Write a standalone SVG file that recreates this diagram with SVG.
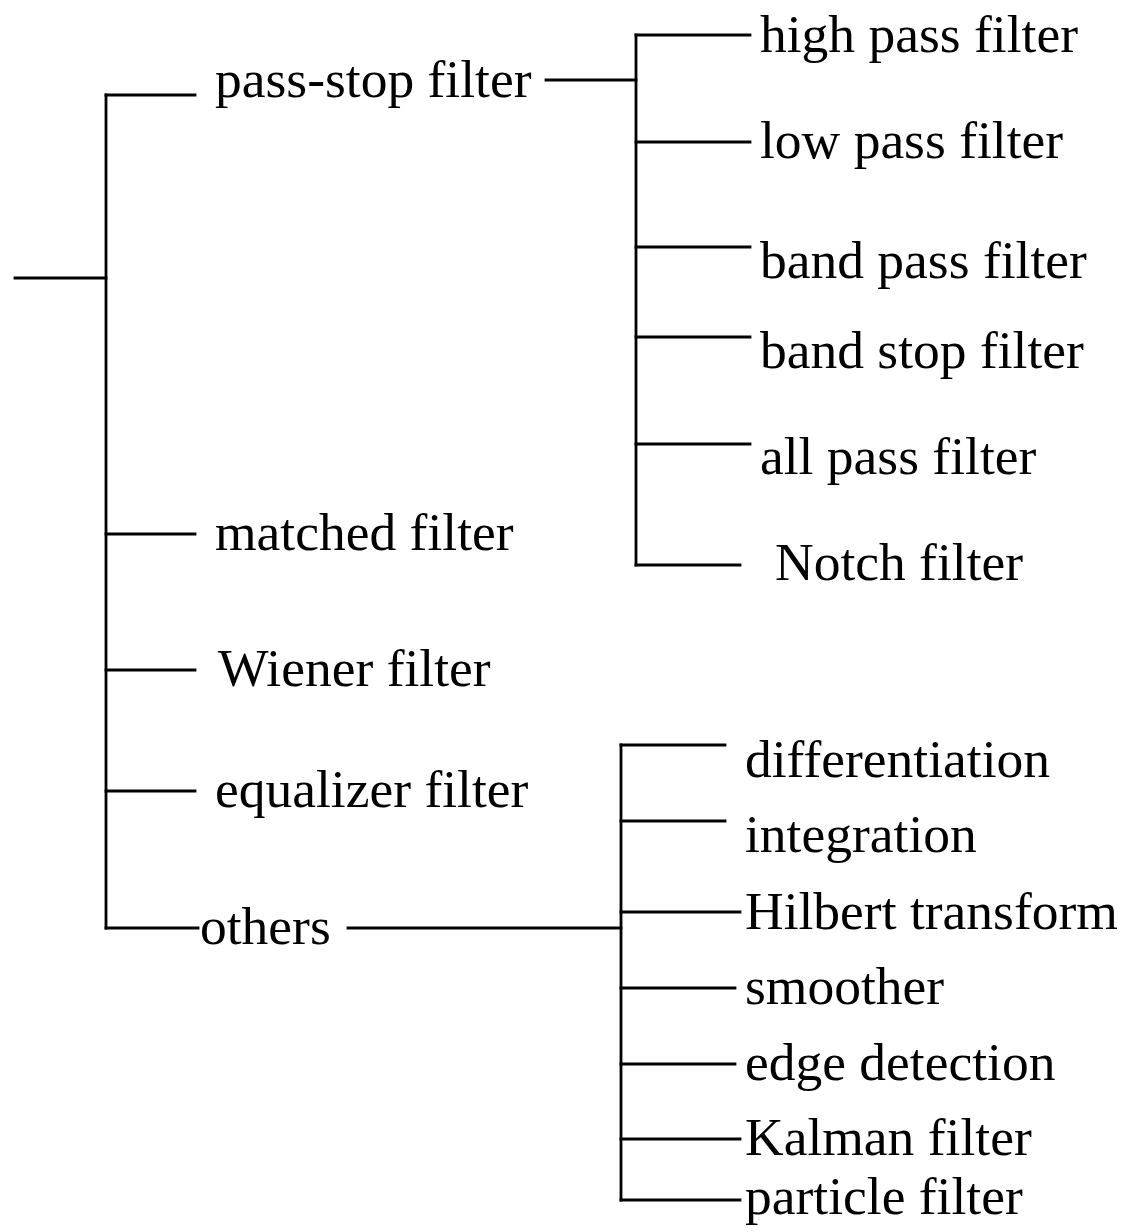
<svg xmlns="http://www.w3.org/2000/svg" width="1124" height="1232" viewBox="0 0 1124 1232">
<style>
.c line{stroke:#000;stroke-width:2.8;stroke-linecap:square;fill:none}
text{font-family:"Liberation Serif","Times New Roman",serif;font-size:53.5px;fill:#000}
</style>
<rect width="1124" height="1232" fill="#fff"/>
<g id="connectors" class="c">
<line x1="15" y1="278" x2="106" y2="278"/>
<line x1="106" y1="95" x2="106" y2="928"/>
<line x1="106" y1="95" x2="195" y2="95"/>
<line x1="106" y1="534" x2="195" y2="534"/>
<line x1="106" y1="670" x2="195" y2="670"/>
<line x1="106" y1="791" x2="195" y2="791"/>
<line x1="106" y1="928" x2="198" y2="928"/>
<line x1="546" y1="80" x2="636" y2="80"/>
<line x1="636" y1="35" x2="636" y2="565"/>
<line x1="636" y1="35" x2="750" y2="35"/>
<line x1="636" y1="142" x2="750" y2="142"/>
<line x1="636" y1="247" x2="750" y2="247"/>
<line x1="636" y1="337" x2="750" y2="337"/>
<line x1="636" y1="444" x2="750" y2="444"/>
<line x1="636" y1="565" x2="740" y2="565"/>
<line x1="348" y1="928" x2="621" y2="928"/>
<line x1="621" y1="745" x2="621" y2="1200"/>
<line x1="621" y1="745" x2="725" y2="745"/>
<line x1="621" y1="821" x2="725" y2="821"/>
<line x1="621" y1="912" x2="740" y2="912"/>
<line x1="621" y1="988" x2="735" y2="988"/>
<line x1="621" y1="1064" x2="735" y2="1064"/>
<line x1="621" y1="1139" x2="740" y2="1139"/>
<line x1="621" y1="1200" x2="740" y2="1200"/>
</g>
<g id="n-passstop"><text x="215" y="97">pass-stop filter</text></g>
<g id="n-matched"><text x="215" y="550">matched filter</text></g>
<g id="n-wiener"><text x="218" y="686">Wiener filter</text></g>
<g id="n-equalizer"><text x="215" y="807">equalizer filter</text></g>
<g id="n-others"><text x="200" y="944">others</text></g>
<g id="n-highpass"><text x="760" y="52">high pass filter</text></g>
<g id="n-lowpass"><text x="760" y="158">low pass filter</text></g>
<g id="n-bandpass"><text x="760" y="278">band pass filter</text></g>
<g id="n-bandstop"><text x="760" y="368">band stop filter</text></g>
<g id="n-allpass"><text x="760" y="474">all pass filter</text></g>
<g id="n-notch"><text x="775" y="580">Notch filter</text></g>
<g id="n-diff"><text x="745" y="777">differentiation</text></g>
<g id="n-integ"><text x="745" y="852">integration</text></g>
<g id="n-hilbert"><text x="745" y="929">Hilbert transform</text></g>
<g id="n-smoother"><text x="745" y="1004">smoother</text></g>
<g id="n-edge"><text x="745" y="1080">edge detection</text></g>
<g id="n-kalman"><text x="745" y="1155">Kalman filter</text></g>
<g id="n-particle"><text x="745" y="1214">particle filter</text></g>
</svg>
